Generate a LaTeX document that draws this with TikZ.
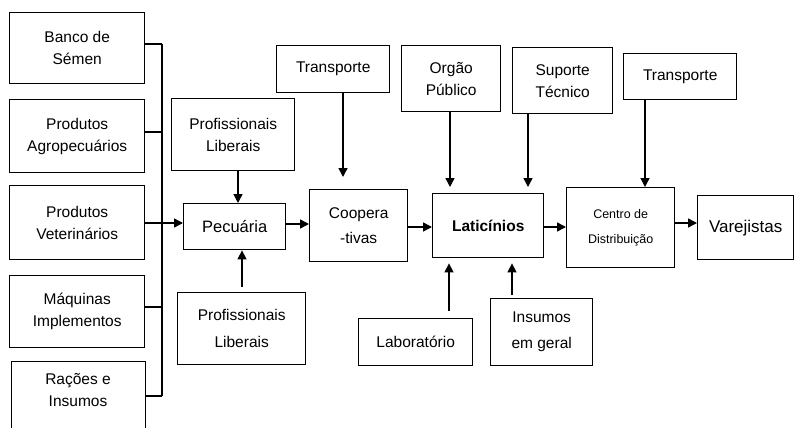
\documentclass[tikz,border=0pt]{standalone}
\usepackage{fontspec}
\setmainfont{Liberation Sans}
\usetikzlibrary{arrows.meta}
\tikzset{
  box/.style={draw=black, line width=1.4pt, anchor=north west, inner sep=0pt, align=center,
    font=\fontsize{15.5}{22}\selectfont},
  link/.style={line width=1.4pt},
  arr/.style={line width=1.4pt, -{Triangle[length=9pt,width=9pt]}},
}
\newcommand{\bx}[6]{\node[box, minimum width=#4-#2, minimum height=#5-#3] (#1) at (#2,-#3) {#6};}
\begin{document}
\begin{tikzpicture}[x=1pt,y=1pt]
\useasboundingbox (0,0) rectangle (795,-428);
% left column
\bx{banco}{9}{12}{144}{83}{Banco de\\Sémen}
\bx{agro}{9}{99}{144}{172}{Produtos\\Agropecuários}
\bx{vet}{9}{185}{144}{259}{Produtos\\Veterinários}
\bx{maq}{9}{275}{144}{347}{Máquinas\\Implementos}
\bx{racoes}{11}{361}{145}{440}{}
\node[font=\fontsize{15.5}{22}\selectfont, align=center, inner sep=0pt] (racoest) at (78,-390) {Rações e\\Insumos};
% bus
\coordinate (bt) at (162,-44);
\coordinate (bb) at (162,-396);
\draw[link] (bt) -- (bb);
\draw[link] (banco.east |- bt) -- (bt);
\draw[link] (agro.east |- 0,-132) -- (162,-132);
\draw[link] (maq.east |- 0,-307) -- (162,-307);
\draw[link] (racoes.east |- bb) -- (bb);
% middle
\bx{pec}{183}{203}{285}{249}{\fontsize{16.5}{22}\selectfont Pecuária}
\bx{prof1}{171}{98}{294}{170}{Profissionais\\Liberais}
\bx{prof2}{177}{292}{305}{364}{Profissionais\\[5pt]Liberais}
\bx{tr1}{276}{45}{389}{92}{Transporte}
\bx{coop}{309}{189}{407}{261}{Coopera\\[3pt]-tivas}
\bx{lat}{432}{193}{543}{257}{\textbf{Laticínios}}
\bx{orgao}{401}{45}{500}{111}{Orgão\\Público}
\bx{sup}{512}{47}{612}{113}{Suporte\\Técnico}
\bx{lab}{358}{318}{472}{365}{Laboratório}
\bx{ins}{490}{298}{592}{365}{Insumos\\[4pt]em geral}
\bx{centro}{566}{187}{674}{267}{\fontsize{12.5}{20}\selectfont Centro de\\[3pt]\fontsize{12.5}{20}\selectfont Distribuição}
\bx{tr2}{623}{53}{736}{99}{Transporte}
\bx{var}{697}{195}{793}{259}{\fontsize{17}{20}\selectfont Varejistas}
% arrows
\draw[arr] (vet.east |- 0,-223) -- (pec.west |- 0,-223);
\draw[arr] (prof1.south -| 238,0) -- (pec.north -| 238,0);
\draw[arr, shorten <=5pt] (prof2.north -| 242,0) -- (pec.south -| 242,0);
\draw[arr] (pec.east |- 0,-224) -- (coop.west |- 0,-224);
\draw[arr, shorten >=12pt] (tr1.south -| 343,0) -- (coop.north -| 343,0);
\draw[arr] (coop.east |- 0,-227) -- (lat.west |- 0,-227);
\draw[arr, shorten >=6pt] (orgao.south -| 450,0) -- (lat.north -| 450,0);
\draw[arr, shorten >=6pt] (sup.south -| 528,0) -- (lat.north -| 528,0);
\draw[arr, shorten <=7pt, shorten >=5pt] (lab.north -| 449,0) -- (lat.south -| 449,0);
\draw[arr, shorten <=3pt, shorten >=5pt] (ins.north -| 512,0) -- (lat.south -| 512,0);
\draw[arr] (lat.east |- 0,-227) -- (centro.west |- 0,-227);
\draw[arr] (tr2.south -| 645,0) -- (centro.north -| 645,0);
\draw[arr] (centro.east |- 0,-223) -- (var.west |- 0,-223);
\end{tikzpicture}
\end{document}
